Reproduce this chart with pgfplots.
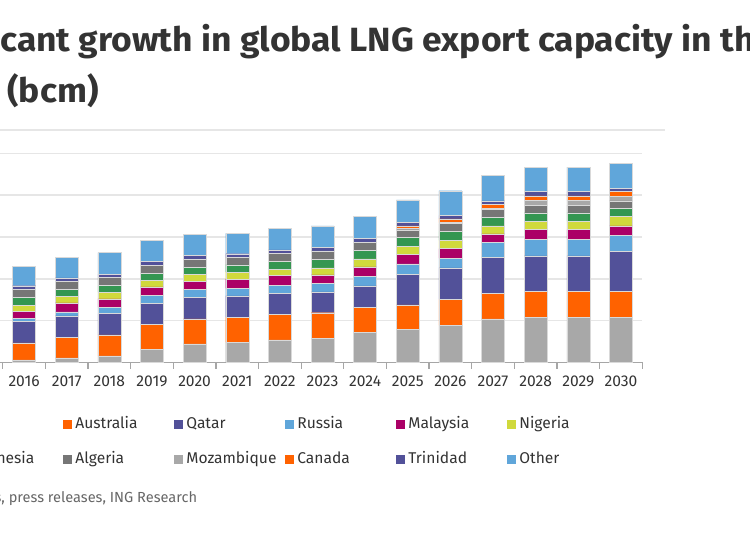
\documentclass[border=0pt]{standalone}
\usepackage{fontspec}
\setmainfont{Fira Sans}
\newfontfamily\titlefont[FakeStretch=1.055]{Fira Sans}
\usepackage{pgfplots}
\pgfplotsset{compat=1.18}
\usepackage{pgfplotstable}
\definecolor{cUS}{HTML}{A8A8A8}
\definecolor{cAus}{HTML}{FF6200}
\definecolor{cQat}{HTML}{525199}
\definecolor{cRus}{HTML}{60A6DA}
\definecolor{cMal}{HTML}{AB0066}
\definecolor{cNig}{HTML}{D0D93C}
\definecolor{cInd}{HTML}{349651}
\definecolor{cAlg}{HTML}{767676}
\definecolor{cMoz}{HTML}{A8A8A8}
\definecolor{cCan}{HTML}{FF6200}
\definecolor{cTri}{HTML}{525199}
\definecolor{cOth}{HTML}{60A6DA}
\definecolor{txt}{HTML}{333333}
\definecolor{src}{HTML}{666666}
\definecolor{gridc}{HTML}{E6E6E6}
\definecolor{axc}{HTML}{A6A6A6}
\pgfplotstableread{
year US Aus Qat Rus Mal Nig Ind Alg Moz Can Tri Oth
2016 13 81 102 16 33 29 38 37 0 0 18 94
2017 22 99 102 19 43 32 33 38 0 0 16 99
2018 32 100 102 29 41 32 33 38 0 0 16 102
2019 62 121 100 38 40 33 32 40 0 0 19 100
2020 89 119 102 40 38 32 35 37 0 0 21 99
2021 97 119 103 35 45 33 35 37 0 0 16 97
2022 108 121 100 41 45 29 40 38 0 0 16 103
2023 115 123 100 40 41 33 41 41 0 0 16 103
2024 143 121 102 45 46 38 40 41 0 0 17 107
2025 159 116 148 48 45 38 45 35 8 11 16 108
2026 178 124 150 46 46 40 43 37 5 18 16 118
2027 209 123 170 72 41 38 41 37 6 18 18 123
2028 217 124 169 80 45 40 40 37 24 21 21 116
2029 217 124 169 80 45 40 40 37 24 21 21 116
2030 217 124 191 75 46 45 40 35 21 24 16 119
}\lngdata
\pgfplotsset{sqleg/.style={legend image code/.code={\fill[##1,draw=none] (0pt,-2.25pt) rectangle (4.5pt,2.25pt);}}}
\newcommand\LE[1]{\addlegendentry{\makebox[48pt][l]{#1}}}
\begin{document}
\begin{tikzpicture}
\useasboundingbox (0,0) rectangle (375pt,268pt);
\clip (0,0) rectangle (375pt,268pt);
\node[anchor=base west, inner sep=0pt, font=\titlefont\bfseries\fontsize{16.8}{20}\selectfont, text=txt] at (0pt,242pt) {\llap{Signifi}cant growth in global LNG export capacity in the next};
\node[anchor=base west, inner sep=0pt, font=\titlefont\bfseries\fontsize{16.8}{20}\selectfont, text=txt] at (3.5pt,216.5pt) {\llap{decade }(bcm)};
\draw[gridc, line width=0.8pt] (0pt,203pt) -- (332.5pt,203pt);
\begin{axis}[
  at={(-19.95pt,86.75pt)}, anchor=south west,
  scale only axis, width=341.1pt, height=104.6pt,
  ybar stacked, bar width=0.54,
  xmin=2014.5, xmax=2030.5, ymin=0, ymax=1000,
  ytick={0,200,...,1000},
  xtick={2016,...,2030},
  minor xtick={2015.5,2016.5,...,2030.5},
  /pgf/number format/assume math mode=true,
  x tick label style={/pgf/number format/1000 sep={}, font=\fontsize{7.8}{9}\selectfont, text=txt, yshift=-3.3pt},
  y tick label style={font=\fontsize{7.8}{9}\selectfont, text=txt},
  axis lines*=left,
  axis line style={draw=axc, line width=0.6pt},
  ymajorgrids, grid style={gridc, line width=0.75pt},
  major tick length=0pt, minor tick length=3pt, tick align=outside,
  minor tick style={draw=axc, line width=0.6pt},
  every axis plot/.append style={draw=white!85!black, line width=0.2pt},
  legend columns=6,
  legend cell align=left,
  legend style={at={(axis description cs:-0.0119,-0.263)}, anchor=north west,
    draw=none, fill=none, inner sep=0pt, row sep=10.5pt,
    font=\fontsize{7.8}{9}\selectfont, text=txt,
    nodes={inner xsep=1.5pt, inner ysep=0pt, text height=5.4pt, text depth=1.5pt}},
]
\addplot[fill=cUS, sqleg] table[x=year,y=US]{\lngdata}; \LE{US}
\addplot[fill=cAus, sqleg] table[x=year,y=Aus]{\lngdata}; \LE{Australia}
\addplot[fill=cQat, sqleg] table[x=year,y=Qat]{\lngdata}; \LE{Qatar}
\addplot[fill=cRus, sqleg] table[x=year,y=Rus]{\lngdata}; \LE{Russia}
\addplot[fill=cMal, sqleg] table[x=year,y=Mal]{\lngdata}; \LE{Malaysia}
\addplot[fill=cNig, sqleg] table[x=year,y=Nig]{\lngdata}; \LE{Nigeria}
\addplot[fill=cInd, sqleg] table[x=year,y=Ind]{\lngdata}; \LE{Indonesia}
\addplot[fill=cAlg, sqleg] table[x=year,y=Alg]{\lngdata}; \LE{Algeria}
\addplot[fill=cMoz, sqleg] table[x=year,y=Moz]{\lngdata}; \LE{Mozambique}
\addplot[fill=cCan, sqleg] table[x=year,y=Can]{\lngdata}; \LE{Canada}
\addplot[fill=cTri, sqleg] table[x=year,y=Tri]{\lngdata}; \LE{Trinidad}
\addplot[fill=cOth, sqleg] table[x=year,y=Oth]{\lngdata}; \LE{Other}
\end{axis}
\node[anchor=base west, inner sep=0pt, font=\fontsize{7.3}{8}\selectfont, text=src] at (0.5pt,17pt) {\llap{Source: IGU, company reports}, press releases, ING Research};
\end{tikzpicture}
\end{document}
